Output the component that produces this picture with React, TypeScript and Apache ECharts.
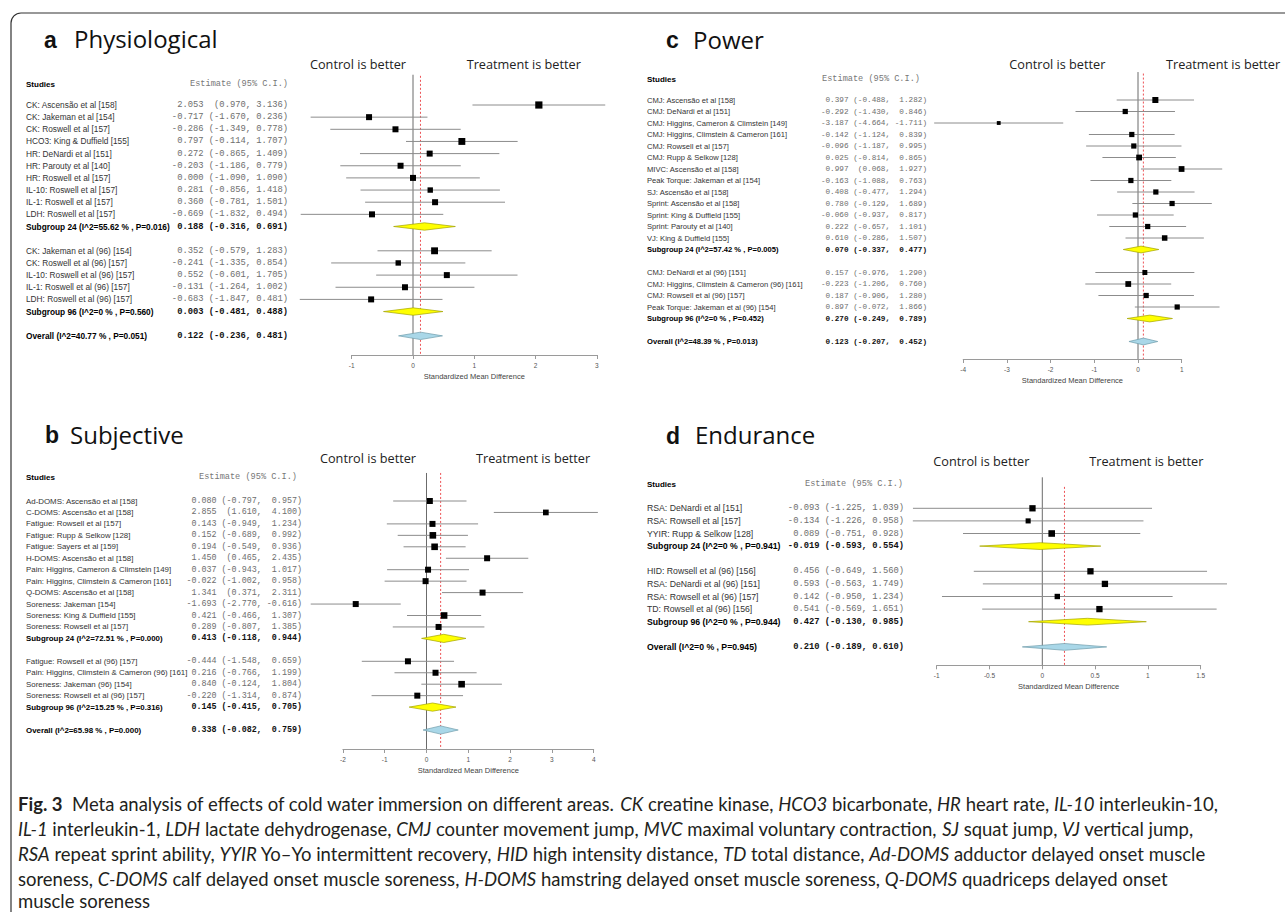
import React, { useEffect, useRef } from "react";
import * as echarts from "echarts";

// ---------------- Panel a: Physiological ----------------
const labelsA = [
  "CK: Ascensão et al [158]",
  "CK: Jakeman et al [154]",
  "CK: Roswell et al [157]",
  "HCO3: King & Duffield [155]",
  "HR: DeNardi et al [151]",
  "HR: Parouty et al [140]",
  "HR: Roswell et al [157]",
  "IL-10: Roswell et al [157]",
  "IL-1: Roswell et al [157]",
  "LDH: Roswell et al [157]",
  "Subgroup 24 (I^2=55.62 % , P=0.016)",
  "CK: Jakeman et al (96) [154]",
  "CK: Roswell et al (96) [157]",
  "IL-10: Roswell et al (96) [157]",
  "IL-1: Roswell et al (96) [157]",
  "LDH: Roswell et al (96) [157]",
  "Subgroup 96 (I^2=0 % , P=0.560)",
  "Overall (I^2=40.77 % , P=0.051)",
];
const estA = [2.053, -0.717, -0.286, 0.797, 0.272, -0.203, 0.0, 0.281, 0.36, -0.669, 0.188, 0.352, -0.241, 0.552, -0.131, -0.683, 0.003, 0.122];
const loA = [0.97, -1.67, -1.349, -0.114, -0.865, -1.186, -1.09, -0.856, -0.781, -1.832, -0.316, -0.579, -1.335, -0.601, -1.264, -1.847, -0.481, -0.236];
const hiA = [3.136, 0.236, 0.778, 1.707, 1.409, 0.779, 1.09, 1.418, 1.501, 0.494, 0.691, 1.283, 0.854, 1.705, 1.002, 0.481, 0.488, 0.481];
const rowsA = [0, 1, 2, 3, 4, 5, 6, 7, 8, 9, 10, 12, 13, 14, 15, 16, 17, 19];
const kindsA = [0, 0, 0, 0, 0, 0, 0, 0, 0, 0, 1, 0, 0, 0, 0, 0, 1, 2];
const weightsA = [1.2, 1.0, 1.0, 1.15, 1.0, 1.0, 1.0, 0.9, 1.0, 1.0, 0, 1.15, 0.9, 1.0, 1.0, 1.0, 0, 0];

// ---------------- Panel b: Subjective ----------------
const labelsB = [
  "Ad-DOMS: Ascensão et al [158]",
  "C-DOMS: Ascensão et al [158]",
  "Fatigue: Rowsell et al [157]",
  "Fatigue: Rupp & Selkow [128]",
  "Fatigue: Sayers et al [159]",
  "H-DOMS: Ascensão et al [158]",
  "Pain: Higgins, Cameron & Climstein [149]",
  "Pain: Higgins, Climstein & Cameron [161]",
  "Q-DOMS: Ascensão et al [158]",
  "Soreness: Jakeman [154]",
  "Soreness: King & Duffield [155]",
  "Soreness: Rowsell et al [157]",
  "Subgroup 24 (I^2=72.51 % , P=0.000)",
  "Fatigue: Rowsell et al (96) [157]",
  "Pain: Higgins, Climstein & Cameron (96) [161]",
  "Soreness: Jakeman (96) [154]",
  "Soreness: Rowsell et al (96) [157]",
  "Subgroup 96 (I^2=15.25 % , P=0.316)",
  "Overall (I^2=65.98 % , P=0.000)",
];
const estB = [0.08, 2.855, 0.143, 0.152, 0.194, 1.45, 0.037, -0.022, 1.341, -1.693, 0.421, 0.289, 0.413, -0.444, 0.216, 0.84, -0.22, 0.145, 0.338];
const loB = [-0.797, 1.61, -0.949, -0.689, -0.549, 0.465, -0.943, -1.002, 0.371, -2.77, -0.466, -0.807, -0.118, -1.548, -0.766, -0.124, -1.314, -0.415, -0.082];
const hiB = [0.957, 4.1, 1.234, 0.992, 0.936, 2.435, 1.017, 0.958, 2.311, -0.616, 1.307, 1.385, 0.944, 0.659, 1.199, 1.804, 0.874, 0.705, 0.759];
const rowsB = [0, 1, 2, 3, 4, 5, 6, 7, 8, 9, 10, 11, 12, 14, 15, 16, 17, 18, 20];
const kindsB = [0, 0, 0, 0, 0, 0, 0, 0, 0, 0, 0, 0, 1, 0, 0, 0, 0, 1, 2];
const weightsB = [1.0, 0.95, 1.0, 1.1, 1.1, 1.0, 1.0, 1.0, 1.0, 1.0, 1.1, 1.0, 0, 1.0, 1.0, 1.1, 1.0, 0, 0];

// ---------------- Panel c: Power ----------------
const labelsC = [
  "CMJ: Ascensão et al [158]",
  "CMJ: DeNardi et al [151]",
  "CMJ: Higgins, Cameron & Climstein [149]",
  "CMJ: Higgins, Climstein & Cameron [161]",
  "CMJ: Rowsell et al [157]",
  "CMJ: Rupp & Selkow [128]",
  "MIVC: Ascensão et al [158]",
  "Peak Torque: Jakeman et al [154]",
  "SJ: Ascensão et al [158]",
  "Sprint: Ascensão et al [158]",
  "Sprint: King & Duffield [155]",
  "Sprint: Parouty et al [140]",
  "VJ: King & Duffield [155]",
  "Subgroup 24 (I^2=57.42 % , P=0.005)",
  "CMJ: DeNardi et al (96) [151]",
  "CMJ: Higgins, Climstein & Cameron (96) [161]",
  "CMJ: Rowsell et al (96) [157]",
  "Peak Torque: Jakeman et al (96) [154]",
  "Subgroup 96 (I^2=0 % , P=0.452)",
  "Overall (I^2=48.39 % , P=0.013)",
];
const estC = [0.397, -0.292, -3.187, -0.142, -0.096, 0.025, 0.997, -0.163, 0.408, 0.78, -0.06, 0.222, 0.61, 0.07, 0.157, -0.223, 0.187, 0.897, 0.27, 0.123];
const loC = [-0.488, -1.43, -4.664, -1.124, -1.187, -0.814, 0.068, -1.088, -0.477, -0.129, -0.937, -0.657, -0.286, -0.337, -0.976, -1.206, -0.906, -0.072, -0.249, -0.207];
const hiC = [1.282, 0.846, -1.711, 0.839, 0.995, 0.865, 1.927, 0.763, 1.294, 1.689, 0.817, 1.101, 1.507, 0.477, 1.29, 0.76, 1.28, 1.866, 0.789, 0.452];
const rowsC = [0, 1, 2, 3, 4, 5, 6, 7, 8, 9, 10, 11, 12, 13, 15, 16, 17, 18, 19, 21];
const kindsC = [0, 0, 0, 0, 0, 0, 0, 0, 0, 0, 0, 0, 0, 1, 0, 0, 0, 0, 1, 2];
const weightsC = [1.1, 0.95, 0.7, 0.95, 0.95, 1.05, 1.05, 0.95, 0.95, 0.95, 0.95, 0.95, 1.0, 0, 0.9, 1.05, 0.95, 0.95, 0, 0];

// ---------------- Panel d: Endurance ----------------
const labelsD = [
  "RSA: DeNardi et al [151]",
  "RSA: Rowsell et al [157]",
  "YYIR: Rupp & Selkow [128]",
  "Subgroup 24 (I^2=0 % , P=0.941)",
  "HID: Rowsell et al (96) [156]",
  "RSA: DeNardi et al (96) [151]",
  "RSA: Rowsell et al (96) [157]",
  "TD: Rowsell et al (96) [156]",
  "Subgroup 96 (I^2=0 % , P=0.944)",
  "Overall (I^2=0 % , P=0.945)",
];
const estD = [-0.093, -0.134, 0.089, -0.019, 0.456, 0.593, 0.142, 0.541, 0.427, 0.21];
const loD = [-1.225, -1.226, -0.751, -0.593, -0.649, -0.563, -0.95, -0.569, -0.13, -0.189];
const hiD = [1.039, 0.958, 0.928, 0.554, 1.56, 1.749, 1.234, 1.651, 0.985, 0.61];
const rowsD = [0, 1, 2, 3, 5, 6, 7, 8, 9, 11];
const kindsD = [0, 0, 0, 1, 0, 0, 0, 0, 1, 2];
const weightsD = [1.05, 0.85, 1.1, 0, 1.05, 1.05, 0.9, 1.05, 0, 0];

// ---------------- Text ----------------
const titles = [
  { letter: "a", word: "Physiological" },
  { letter: "b", word: "Subjective" },
  { letter: "c", word: "Power" },
  { letter: "d", word: "Endurance" },
];
const controlText = "Control is better";
const treatText = "Treatment is better";
const studiesHeader = "Studies";
const estimateHeader = "Estimate (95% C.I.)";
const axisTitle = "Standardized Mean Difference";
const captionLines = [
  "{b|Fig. 3}\u00a0\u00a0Meta analysis of effects of cold water immersion on different areas. {i|CK} creatine kinase, {i|HCO3} bicarbonate, {i|HR} heart rate, {i|IL-10} interleukin-10,",
  "{i|IL-1} interleukin-1, {i|LDH} lactate dehydrogenase, {i|CMJ} counter movement jump, {i|MVC} maximal voluntary contraction, {i|SJ} squat jump, {i|VJ} vertical jump,",
  "{i|RSA} repeat sprint ability, {i|YYIR} Yo–Yo intermittent recovery, {i|HID} high intensity distance, {i|TD} total distance, {i|Ad-DOMS} adductor delayed onset muscle",
  "soreness, {i|C-DOMS} calf delayed onset muscle soreness, {i|H-DOMS} hamstring delayed onset muscle soreness, {i|Q-DOMS} quadriceps delayed onset",
  "muscle soreness",
];

const SANS = "'Liberation Sans', Arial, sans-serif";
const MONO = "'Liberation Mono', 'DejaVu Sans Mono', monospace";
const OPEN = "'Open Sans', sans-serif";
const LATO = "Lato, sans-serif";

type PanelData = {
  labels: string[];
  est: number[];
  lo: number[];
  hi: number[];
  rows: number[];
  kinds: number[];
  weights: number[];
};

type Layout = {
  zero: number; unit: number; row0: number; step: number; axisY: number; yMin: number;
  xMin: number; xMax: number; xInt: number; labelX: number; numRight: number;
  labelFont: number; numFont: number; base: number; dh: number; padHi: boolean;
  redStart: number; headY: number; headRight: number;
  title: { lx: number; wx: number; base: number };
  ctrl: { cx: number; tx: number; base: number };
};

const panels: { d: PanelData; L: Layout }[] = [
  {
    d: { labels: labelsA, est: estA, lo: loA, hi: hiA, rows: rowsA, kinds: kindsA, weights: weightsA },
    L: { zero: 413, unit: 61.3, row0: 105, step: 12.15, axisY: 355, yMin: -2.5, xMin: -1, xMax: 3, xInt: 1,
      labelX: 26, numRight: 288, labelFont: 8.3, numFont: 8.8, base: 6, dh: 3.7, padHi: false, redStart: -2.4,
      headY: 84, headRight: 288, title: { lx: 44, wx: 74, base: 47.7 }, ctrl: { cx: 310, tx: 466.7, base: 69 } },
  },
  {
    d: { labels: labelsB, est: estB, lo: loB, hi: hiB, rows: rowsB, kinds: kindsB, weights: weightsB },
    L: { zero: 426.5, unit: 41.8, row0: 501, step: 11.45, axisY: 749, yMin: -2.45, xMin: -2, xMax: 4, xInt: 1,
      labelX: 26, numRight: 302, labelFont: 7.9, numFont: 8.4, base: 6, dh: 4.1, padHi: true, redStart: -2.45,
      headY: 477, headRight: 297, title: { lx: 45, wx: 70, base: 443.3 }, ctrl: { cx: 320, tx: 476, base: 462.7 } },
  },
  {
    d: { labels: labelsC, est: estC, lo: loC, hi: hiC, rows: rowsC, kinds: kindsC, weights: weightsC },
    L: { zero: 1138, unit: 43.7, row0: 100, step: 11.5, axisY: 359, yMin: -2.43, xMin: -4, xMax: 1, xInt: 1,
      labelX: 647, numRight: 927, labelFont: 7.6, numFont: 7.7, base: 5.5, dh: 3.4, padHi: true, redStart: -2.3,
      headY: 79, headRight: 920, title: { lx: 666, wx: 693, base: 48.3 }, ctrl: { cx: 1009.3, tx: 1166, base: 69 } },
  },
  {
    d: { labels: labelsD, est: estD, lo: loD, hi: hiD, rows: rowsD, kinds: kindsD, weights: weightsD },
    L: { zero: 1042.3, unit: 105.6, row0: 508.3, step: 12.6, axisY: 665.3, yMin: -2.46, xMin: -1, xMax: 1.5, xInt: 0.5,
      labelX: 647, numRight: 904, labelFont: 8.7, numFont: 8.8, base: 6, dh: 3.4, padHi: false, redStart: -1.7,
      headY: 484, headRight: 903, title: { lx: 666, wx: 695, base: 444 }, ctrl: { cx: 933.3, tx: 1089.3, base: 466 } },
  },
];

const NB = "\u00a0";
function pad(s: string, n: number) {
  while (s.length < n) s = NB + s;
  return s;
}
function numText(e: number, l: number, h: number, padHi: boolean) {
  const est = pad(e.toFixed(3), 6);
  const gap = l < 0 ? NB + "(" : NB + NB + "(";
  const hs = padHi ? pad(h.toFixed(3), 6) : h.toFixed(3);
  return est + gap + l.toFixed(3) + "," + NB + hs + ")";
}

function buildOption() {
  const grid: any[] = [];
  const xAxis: any[] = [];
  const yAxis: any[] = [];
  const series: any[] = [];
  const graphics: any[] = [];

  panels.forEach(({ d, L }, idx) => {
    const top = L.row0 + L.yMin * L.step;
    const height = L.axisY - top;
    const yMax = L.yMin + height / L.step;
    const left = L.zero + L.xMin * L.unit;
    const width = (L.xMax - L.xMin) * L.unit;
    grid.push({ left, top, width, height, containLabel: false });
    xAxis.push({
      gridIndex: idx, type: "value", min: L.xMin, max: L.xMax, interval: L.xInt,
      axisLine: { show: true, onZero: false, lineStyle: { color: "#9a9a9a", width: 1 } },
      axisTick: { show: true, length: 4, lineStyle: { color: "#9a9a9a" } },
      axisLabel: { fontSize: 6.5, color: "#555", margin: 7, fontFamily: SANS },
      splitLine: { show: false },
      name: axisTitle, nameLocation: "middle", nameGap: 17,
      nameTextStyle: { fontSize: 7.5, color: "#444", fontFamily: SANS },
    });
    yAxis.push({ gridIndex: idx, type: "value", min: L.yMin, max: yMax, inverse: true, show: false });

    const oi = d.kinds.indexOf(2);
    series.push({
      type: "line", xAxisIndex: idx, yAxisIndex: idx, silent: true, z: 2,
      data: [[0, L.yMin], [0, yMax]], symbol: "none",
      lineStyle: { color: "#6b6b6b", width: 1 },
    });
    series.push({
      type: "line", xAxisIndex: idx, yAxisIndex: idx, silent: true, z: 2,
      data: [[d.est[oi], L.redStart], [d.est[oi], yMax]], symbol: "none",
      lineStyle: { color: "#e8262a", width: 0.8, type: [2, 2] },
    });
    series.push({
      type: "custom", xAxisIndex: idx, yAxisIndex: idx, silent: true, z: 3, clip: false,
      encode: { x: [0, 1, 2], y: 3 },
      data: d.rows.map((r, i) => [d.est[i], d.lo[i], d.hi[i], r, i]),
      renderItem: (params: any, api: any) => {
        const i = api.value(4);
        const row = api.value(3);
        const kind = d.kinds[i];
        const pE = api.coord([api.value(0), row]);
        const pL = api.coord([api.value(1), row]);
        const pH = api.coord([api.value(2), row]);
        const y = pE[1];
        const bold = kind !== 0;
        const children: any[] = [
          {
            type: "text", x: L.labelX, y,
            style: { text: d.labels[i], fill: bold ? "#000" : "#333", fontSize: L.labelFont, fontFamily: SANS,
              fontWeight: bold ? "bold" : "normal", align: "left", verticalAlign: "middle" },
          },
          {
            type: "text", x: L.numRight, y,
            style: { text: numText(d.est[i], d.lo[i], d.hi[i], L.padHi), fill: bold ? "#111" : "#6e6e6e",
              fontSize: L.numFont, fontFamily: MONO, fontWeight: bold ? "bold" : "normal", align: "right", verticalAlign: "middle" },
          },
        ];
        if (kind === 0) {
          const s = L.base * d.weights[i];
          children.push({ type: "line", shape: { x1: pL[0], y1: y, x2: pH[0], y2: y }, style: { stroke: "#8c8c8c", lineWidth: 1 } });
          children.push({ type: "rect", shape: { x: pE[0] - s / 2, y: y - s / 2, width: s, height: s }, style: { fill: "#000" } });
        } else {
          children.push({
            type: "polygon",
            shape: { points: [[pL[0], y], [pE[0], y - L.dh], [pH[0], y], [pE[0], y + L.dh]] },
            style: { fill: kind === 1 ? "#ffff00" : "#a9d7e8", stroke: kind === 1 ? "#a3a300" : "#6f9cab", lineWidth: 0.7 },
          });
        }
        return { type: "group", children };
      },
    });

    // titles, headers
    const t = titles[idx];
    graphics.push({ type: "text", x: L.title.lx, y: L.title.base - 8, style: { text: t.letter, fill: "#111", fontSize: 23, fontWeight: "bold", fontFamily: SANS, align: "left", verticalAlign: "middle" } });
    graphics.push({ type: "text", x: L.title.wx, y: L.title.base - 9.3, style: { text: t.word, fill: "#111", fontSize: 24, fontFamily: OPEN, align: "left", verticalAlign: "middle" } });
    graphics.push({ type: "text", x: L.labelX, y: L.headY, style: { text: studiesHeader, fill: "#000", fontSize: 8, fontWeight: "bold", fontFamily: SANS, align: "left", verticalAlign: "middle" } });
    graphics.push({ type: "text", x: L.headRight, y: L.headY, style: { text: estimateHeader, fill: "#777", fontSize: 8.6, fontFamily: MONO, align: "right", verticalAlign: "middle" } });
    graphics.push({ type: "text", x: L.ctrl.cx, y: L.ctrl.base - 4.9, style: { text: controlText, fill: "#222", fontSize: 12.7, fontFamily: OPEN, align: "left", verticalAlign: "middle" } });
    graphics.push({ type: "text", x: L.ctrl.tx, y: L.ctrl.base - 4.9, style: { text: treatText, fill: "#222", fontSize: 12.7, fontFamily: OPEN, align: "left", verticalAlign: "middle" } });
  });

  // frame
  graphics.push({ type: "rect", shape: { x: 11, y: 13, width: 1300, height: 920, r: 10 }, style: { fill: "none", stroke: "#333", lineWidth: 1.2 }, z: 0 });

  // caption
  const capY = [804, 829, 854, 878.5, 901];
  const CAP = 18.5;
  captionLines.forEach((line, k) => {
    graphics.push({
      type: "text", x: 18, y: capY[k],
      style: {
        text: line, fill: "#231f20", fontSize: CAP, fontFamily: LATO, align: "left", verticalAlign: "middle",
        rich: {
          b: { fontSize: CAP, fontFamily: LATO, fontWeight: "bold", fill: "#231f20" },
          i: { fontSize: CAP, fontFamily: LATO, fontStyle: "italic", fill: "#231f20" },
        },
      },
    });
  });

  return {
    animation: false,
    backgroundColor: "#fff",
    textStyle: { fontFamily: SANS },
    grid, xAxis, yAxis, series,
    graphic: { elements: graphics },
  };
}

export default function App() {
  const ref = useRef<HTMLDivElement>(null);
  useEffect(() => {
    if (!ref.current) return;
    const chart = echarts.init(ref.current, null, { renderer: "svg" });
    chart.setOption(buildOption() as any);
    return () => chart.dispose();
  }, []);
  return <div ref={ref} style={{ position: "absolute", left: 0, top: 0, width: 1285, height: 912 }} />;
}
